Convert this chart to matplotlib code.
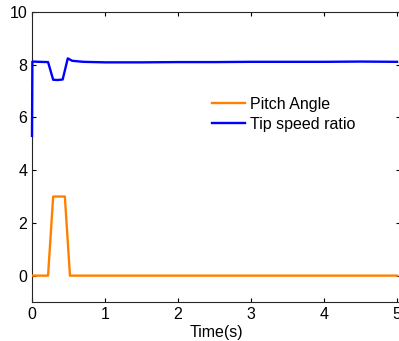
import matplotlib
matplotlib.use("Agg")
import matplotlib.pyplot as plt

# pitch angle (deg) vs time (s)
pitch_t = [0, 0.22, 0.29, 0.45, 0.52, 5.0]
pitch_v = [0, 0, 3.0, 3.0, 0, 0]

# tip speed ratio vs time (s)
tsr_t = [0, 0.005, 0.1, 0.22, 0.29, 0.35, 0.42, 0.49, 0.55, 0.7, 1.0, 1.5, 2.0,
         2.5, 3.0, 3.5, 4.0, 4.5, 5.0]
tsr_v = [5.3, 8.12, 8.11, 8.1, 7.43, 7.42, 7.44, 8.24, 8.15, 8.11, 8.09, 8.09,
         8.1, 8.1, 8.11, 8.11, 8.11, 8.12, 8.11]

xticks = [0, 1, 2, 3, 4, 5]
yticks = [0, 2, 4, 6, 8, 10]

plt.rcParams['font.family'] = ['Liberation Sans', 'DejaVu Sans']
plt.rcParams['font.size'] = 11.5

fig = plt.figure(figsize=(3.99, 3.41), dpi=100)
ax = fig.add_axes([32 / 399, 1 - 302 / 341, 368 / 399, 290 / 341])

ax.plot(pitch_t, pitch_v, color='#FF8000', lw=1.7, label='Pitch Angle', zorder=3)
ax.plot(tsr_t, tsr_v, color='#0000FF', lw=1.7, label='Tip speed ratio', zorder=3,
        clip_on=False)

ax.set_xlim(0, 5.04)
ax.set_ylim(-1, 10)
ax.set_xticks(xticks)
ax.set_yticks(yticks)
ax.tick_params(direction='in', length=3, top=True, right=True, width=0.8)
for s in ax.spines.values():
    s.set_color('#262626')
    s.set_linewidth(0.8)

ax.set_xlabel('Time(s)', labelpad=2)
ax.legend(frameon=False, loc='center left', bbox_to_anchor=(0.489, 0.647),
          handlelength=2.1, handletextpad=0.3, labelspacing=0.3,
          borderaxespad=0, borderpad=0)

fig.savefig('out.png', dpi=100)
